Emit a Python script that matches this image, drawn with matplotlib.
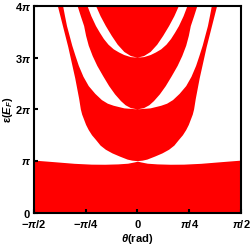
import numpy as np
import matplotlib
matplotlib.use('Agg')
import matplotlib.pyplot as plt

# ------------------------------------------------------------------------
# 값은 그림에서 읽은 것 (theta: rad, eps: pi 단위), theta >= 0 쪽만, 좌우 대칭
# 가장 아래 band의 윗변
low_th = [0.0, 0.05, 0.15, 0.3, 0.5, 0.7, 0.96, 1.27, np.pi / 2]
low_ep = [1.0, 0.985, 0.96, 0.947, 0.94, 0.942, 0.958, 0.99, 1.02]

# U 모양 band 바깥 경계
u_th = [0.0, 0.08, 0.15, 0.27, 0.38, 0.48, 0.56, 0.63, 0.69, 0.74, 0.78, 0.81, 0.84,
        0.86, 0.885, 0.915, 0.945, 0.98, 1.015, 1.05, 1.09, 1.13, 1.17, 1.21]
u_ep = [1.0, 1.01, 1.03, 1.09, 1.15, 1.22, 1.30, 1.41, 1.50, 1.60, 1.70, 1.80, 1.90,
        2.0, 2.2, 2.4, 2.6, 2.8, 3.0, 3.2, 3.4, 3.6, 3.8, 4.0]

# 2pi 에서 닿는 gap (바깥 / 안쪽)
g2_out_th = [0.0, 0.2, 0.36, 0.45, 0.54, 0.64, 0.74, 0.82, 0.89, 0.94, 0.99, 1.03, 1.07, 1.10, 1.13]
g2_out_ep = [2.0, 2.02, 2.07, 2.11, 2.18, 2.3, 2.45, 2.63, 2.84, 3.03, 3.23, 3.42, 3.61, 3.8, 4.0]
g2_in_th = [0.0, 0.1, 0.18, 0.25, 0.34, 0.43, 0.52, 0.61, 0.68, 0.74, 0.78, 0.81, 0.86, 0.91]
g2_in_ep = [2.0, 2.025, 2.08, 2.16, 2.29, 2.45, 2.64, 2.84, 3.03, 3.23, 3.42, 3.61, 3.8, 4.0]

# 3pi 에서 닿는 gap (바깥 / 안쪽)
g3_out_th = [0.0, 0.1, 0.2, 0.28, 0.36, 0.44, 0.51, 0.57, 0.63, 0.7, 0.76]
g3_out_ep = [3.0, 3.01, 3.05, 3.1, 3.16, 3.25, 3.36, 3.48, 3.61, 3.8, 4.0]
g3_in_th = [0.0, 0.1, 0.2, 0.3, 0.39, 0.48, 0.56, 0.63]
g3_in_ep = [3.0, 3.03, 3.11, 3.25, 3.42, 3.61, 3.8, 4.0]

xticks = [-np.pi / 2, -np.pi / 4, 0, np.pi / 4, np.pi / 2]
xticklabels = [r'$\mathbf{-}\mathit{\pi}\mathbf{/2}$', r'$\mathbf{-}\mathit{\pi}\mathbf{/4}$',
               r'$\mathbf{0}$', r'$\mathit{\pi}\mathbf{/4}$', r'$\mathit{\pi}\mathbf{/2}$']
yticks = [0, 1, 2, 3, 4]
yticklabels = [r'$\mathbf{0}$', r'$\mathit{\pi}$', r'$\mathbf{2}\mathit{\pi}$',
               r'$\mathbf{3}\mathit{\pi}$', r'$\mathbf{4}\mathit{\pi}$']
# ------------------------------------------------------------------------
plt.rcParams['font.family'] = ['Liberation Sans', 'DejaVu Sans']
plt.rcParams['font.weight'] = 'bold'
plt.rcParams['mathtext.fontset'] = 'custom'
plt.rcParams['mathtext.rm'] = 'Liberation Sans:bold'
plt.rcParams['mathtext.bf'] = 'Liberation Sans:bold'
plt.rcParams['mathtext.it'] = 'Liberation Sans:bold:italic'


def mirror(th, ep):
    # 왼쪽 + 오른쪽 곡선
    th = np.array(th)
    ep = np.array(ep)
    return np.concatenate([-th[::-1], th[1:]]), np.concatenate([ep[::-1], ep[1:]])


def crescent(out_th, out_ep, in_th, in_ep):
    # 바깥 곡선 (왼쪽 위 -> 아래 -> 오른쪽 위), 안쪽 곡선 되돌아옴
    ox, oy = mirror(out_th, out_ep)
    ix, iy = mirror(in_th, in_ep)
    return np.concatenate([ox, ix[::-1]]), np.concatenate([oy, iy[::-1]])


red = '#ff0000'
fig = plt.figure(figsize=(2.52, 2.45), dpi=100)
ax = fig.add_axes([0.135, 0.131, 0.821, 0.845])

lx, ly = mirror(low_th, low_ep)
ax.fill_between(lx, 0, ly * np.pi, color=red, lw=0)

ux, uy = mirror(u_th, u_ep)
ax.fill(ux, uy * np.pi, color=red, lw=0)

for gap in [crescent(g2_out_th, g2_out_ep, g2_in_th, g2_in_ep),
            crescent(g3_out_th, g3_out_ep, g3_in_th, g3_in_ep)]:
    ax.fill(gap[0], gap[1] * np.pi, color='white', lw=0)

ax.set_xlim(-np.pi / 2, np.pi / 2)
ax.set_ylim(0, 4 * np.pi)
ax.set_xticks(xticks)
ax.set_xticklabels(xticklabels)
ax.set_yticks(np.array(yticks) * np.pi)
ax.set_yticklabels(yticklabels)
ax.tick_params(direction='in', length=3, width=1.5, labelsize=8, pad=2)
ax.tick_params(axis='x', pad=4)

for s in ax.spines.values():
    s.set_linewidth(1.5)

ax.set_xlabel(r'$\mathit{\theta}\mathbf{(rad)}$', fontsize=8, labelpad=1)
ax.set_ylabel(r'$\mathbf{\epsilon(}\mathit{E_F}\mathbf{)}$', fontsize=8, labelpad=0)

plt.savefig('out.png', dpi=100)
